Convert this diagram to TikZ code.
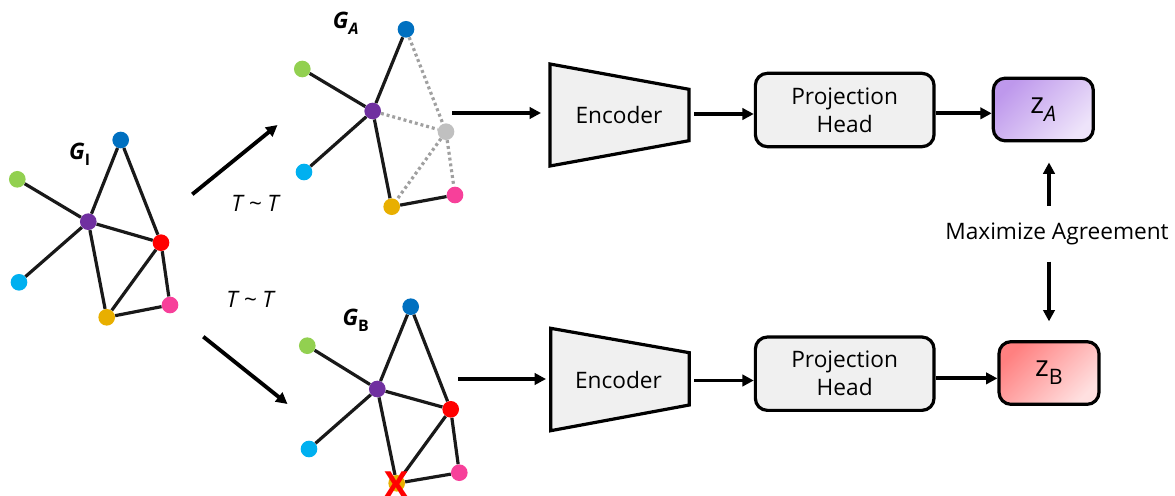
\documentclass[tikz,border=0pt]{standalone}
\usepackage{fontspec}
\setmainfont{Open Sans}
\usetikzlibrary{arrows.meta}
\definecolor{cblue}{HTML}{0070C0}
\definecolor{cgreen}{HTML}{92D050}
\definecolor{cpurple}{HTML}{7030A0}
\definecolor{cred}{HTML}{FF0000}
\definecolor{ccyan}{HTML}{00B0F0}
\definecolor{cyellow}{HTML}{E8AF00}
\definecolor{cpink}{HTML}{F7409A}
\definecolor{cgray}{HTML}{C0C0C0}
\definecolor{dotgray}{HTML}{A0A0A0}
\definecolor{boxgray}{HTML}{F0F0F0}
\definecolor{zaA}{HTML}{BE98EC}
\definecolor{zaB}{HTML}{EEE4FA}
\definecolor{zbA}{HTML}{FF8080}
\definecolor{zbB}{HTML}{FFE0E0}
\begin{document}
\begin{tikzpicture}[x=0.75pt,y=-0.75pt,
  gnode/.style={circle,inner sep=0pt,minimum size=12.5pt},
  edge/.style={line width=2.4pt,black!90},
  dedge/.style={line width=2.4pt,draw=dotgray,dash pattern=on 2.2pt off 2.2pt},
  arr/.style={line width=2.9pt,-{Triangle[length=8.5pt,width=8.5pt]}},
  txt/.style={font=\fontsize{17}{21}\selectfont},
  glab/.style={font=\fontsize{17}{20}\selectfont\bfseries\itshape},
  phbox/.style={draw,line width=2.4pt,rounded corners=9pt,fill=boxgray,minimum width=134pt,minimum height=55pt,align=center,font=\fontsize{17}{21}\selectfont},
  zbox/.style={draw,line width=2.4pt,rounded corners=9pt,minimum width=75pt,minimum height=47pt,font=\fontsize{22}{24}\selectfont},
  encshape/.style={draw,line width=2.4pt,fill=boxgray,line join=miter}
]
\useasboundingbox (0,0) rectangle (1175,496);

% ---------- Graph G_I ----------
\node[gnode,fill=cblue]   (i1) at (120.7,140) {};
\node[gnode,fill=cgreen]  (i2) at (17.3,179.3) {};
\node[gnode,fill=cpurple] (i3) at (88.3,221.7) {};
\node[gnode,fill=cred]    (i4) at (161,242.7) {};
\node[gnode,fill=ccyan]   (i5) at (19,282.3) {};
\node[gnode,fill=cyellow] (i6) at (106.7,317.3) {};
\node[gnode,fill=cpink]   (i7) at (170,305) {};
\draw[edge] (i1)--(i3) (i1)--(i4) (i2)--(i3) (i5)--(i3) (i3)--(i4) (i3)--(i6) (i4)--(i6) (i4)--(i7) (i6)--(i7);
\node[glab] (gi) at (80,154) {G\textsubscript{\raisebox{-2pt}{\upshape I}}};

% ---------- Graph G_A ----------
\node[gnode,fill=cblue]   (a1) at (406,29.3) {};
\node[gnode,fill=cgreen]  (a2) at (302.3,69) {};
\node[gnode,fill=cpurple] (a3) at (372.7,111) {};
\node[gnode,fill=cgray]   (a4) at (446,131.7) {};
\node[gnode,fill=ccyan]   (a5) at (304,172) {};
\node[gnode,fill=cyellow] (a6) at (391.7,206.7) {};
\node[gnode,fill=cpink]   (a7) at (455,195) {};
\draw[edge] (a1)--(a3) (a2)--(a3) (a5)--(a3) (a3)--(a6) (a6)--(a7);
\draw[dedge] (a1)--(a4) (a3)--(a4) (a4)--(a6) (a4)--(a7);
\node[glab] (ga) at (346,23) {G\textsubscript{\raisebox{-2pt}{A}}};

% ---------- Graph G_B ----------
\node[gnode,fill=cblue]   (b1) at (410.7,306.7) {};
\node[gnode,fill=cgreen]  (b2) at (307.3,345.7) {};
\node[gnode,fill=cpurple] (b3) at (377.3,389) {};
\node[gnode,fill=cred]    (b4) at (450.7,409.3) {};
\node[gnode,fill=ccyan]   (b5) at (309,449) {};
\node[gnode,fill=cyellow] (b6) at (396.7,483.3) {};
\node[gnode,fill=cpink]   (b7) at (459.3,472.7) {};
\draw[edge] (b1)--(b3) (b1)--(b4) (b2)--(b3) (b5)--(b3) (b3)--(b4) (b3)--(b6) (b4)--(b6) (b4)--(b7) (b6)--(b7);
\node[glab] (gb) at (356,320) {G\textsubscript{\raisebox{-2pt}{\upshape B}}};
\node[text=cred,font=\fontsize{27}{27}\selectfont\bfseries,inner sep=0pt] (xx) at (397,485) {X};

% ---------- Augmentation arrows ----------
\coordinate (ta1) at (192.3,194.3);
\coordinate (ta2) at (277.5,125);
\coordinate (tb1) at (203.3,336.7);
\coordinate (tb2) at (287.5,404);
\draw[arr] (ta1) -- (ta2);
\draw[arr] (tb1) -- (tb2);
\node[txt,font=\fontsize{17}{21}\selectfont\itshape] (tla) at (255,203) {T \textasciitilde{} T};
\node[txt,font=\fontsize{17}{21}\selectfont\itshape] (tlb) at (250,299) {T \textasciitilde{} T};

% ---------- Encoders ----------
\draw[encshape] (550,64) -- (689,89.3) -- (689,140.7) -- (550,166) -- cycle;
\node[txt] (encA) at (619,115) {Encoder};
\draw[encshape] (550.7,328.3) -- (689.3,352.7) -- (689.3,405) -- (550.7,430.7) -- cycle;
\node[txt] (encB) at (618.5,380) {Encoder};

\coordinate (ga1) at (452,113);
\coordinate (ga2) at (541,113);
\coordinate (gb1) at (458,379);
\coordinate (gb2) at (546,379);
\draw[arr] (ga1) -- (ga2);
\draw[arr] (gb1) -- (gb2);

% ---------- Projection heads ----------
\node[phbox] (phA) at (844.7,110) {Projection\\Head};
\node[phbox] (phB) at (844.7,373.7) {Projection\\Head};
\coordinate (ea) at (694,114);
\coordinate (eb) at (694,380.5);
\draw[arr] (ea) -- (ea -| phA.west);
\draw[arr] (eb) -- (eb -| phB.west);

% ---------- Outputs ----------
\node[zbox,top color=zaA,bottom color=zaB,shading angle=45] (zA) at (1043.3,109.5) {z\raisebox{-6pt}{\fontsize{16}{16}\selectfont\itshape A}};
\node[zbox,top color=zbA,bottom color=zbB,shading angle=45] (zB) at (1049,373) {z\raisebox{-6pt}{\fontsize{16}{16}\selectfont B}};
\draw[arr] ([yshift=-2.5pt]phA.east) -- ([yshift=-2.5pt]phA.east -| zA.west);
\draw[arr] ([yshift=-3.5pt]phB.east) -- ([yshift=-3.5pt]phB.east -| zB.west);

\node[txt] (mx) at (1057,234) {Maximize Agreement};
\coordinate (u1) at (1049,205.7);
\coordinate (d1) at (1049,261.7);
\draw[arr,shorten >=15pt] (u1) -- (u1 |- zA.south);
\draw[arr,shorten >=14pt] (d1) -- (d1 |- zB.north);
\end{tikzpicture}
\end{document}
